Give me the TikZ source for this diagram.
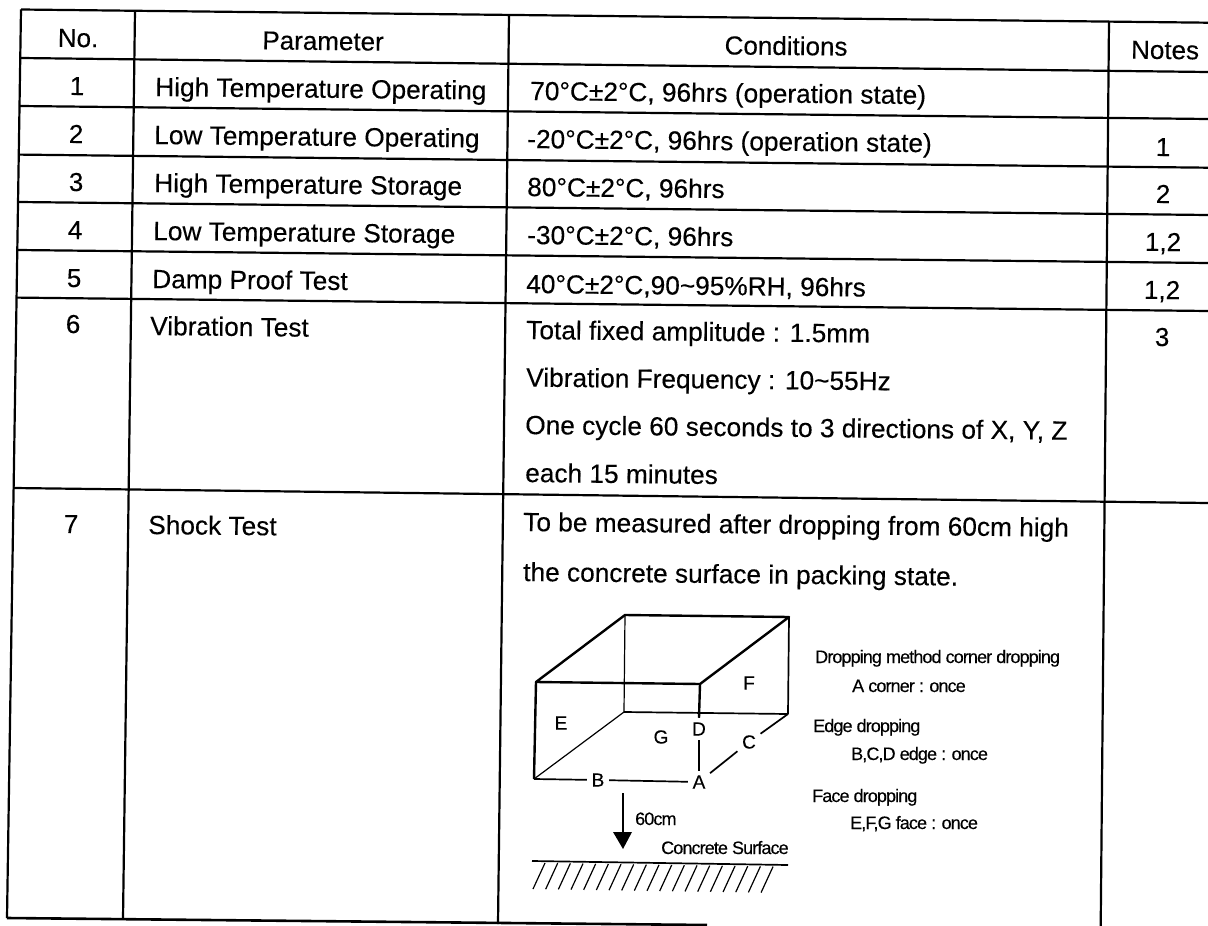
\documentclass[tikz,border=0pt]{standalone}
\usepackage{fontspec}
\setmainfont{Liberation Sans}
\newfontface\mainface[FakeBold=0.25]{Liberation Sans}
\newfontface\smfont[LetterSpace=-5,FakeBold=0.25]{Liberation Sans}
\newfontface\labface[FakeBold=0.25]{Liberation Sans}
\tikzset{
  x=1pt,y=-1pt,
  tline/.style={line width=2.2pt,black},
  ttxt/.style={inner sep=0pt,anchor=base west,rotate=-0.6,font=\mainface\fontsize{26.25}{30}\selectfont},
  ctxt/.style={inner sep=0pt,anchor=base,rotate=-0.6,font=\mainface\fontsize{26}{30}\selectfont},
  smtxt/.style={inner sep=0pt,anchor=base west,font=\smfont\fontsize{18}{22}\selectfont},
  lab/.style={inner sep=4.5pt,font=\labface\fontsize{19}{24}\selectfont},
  heavy/.style={line width=2.4pt,line join=round},
  medium/.style={line width=1.7pt},
  fine/.style={line width=1.2pt}
}
\begin{document}
\begin{tikzpicture}
\useasboundingbox (0,0) rectangle (1208,926);
\fill[white] (0,0) rectangle (1208,926);
% horizontal rules
\draw[tline] (21,9.5) -- (1208,22.7);
\draw[tline] (21,58) -- (1208,72);
\draw[tline] (20,106) -- (1208,119);
\draw[tline] (19,154.6) -- (1208,167.7);
\draw[tline] (19,202) -- (1208,215);
\draw[tline] (18,250) -- (1208,263);
\draw[tline] (17,297.6) -- (1208,311);
\draw[tline] (14,488) -- (1208,503);
\draw[tline,line width=2.6pt] (7,918) -- (707,925);
% vertical rules
\draw[tline] (21,9.5) -- (7,918);
\draw[tline] (135,10.5) -- (123,919);
\draw[tline] (509,15) -- (498,924);
\draw[tline] (1109,21) -- (1100.7,926);
% column 1
\node[ctxt] (h1) at (78,47) {No.};
\node[ctxt] (n1) at (77,95) {1};
\node[ctxt] (n2) at (76,143) {2};
\node[ctxt] (n3) at (76,191) {3};
\node[ctxt] (n4) at (75,239) {4};
\node[ctxt] (n5) at (74,287) {5};
\node[ctxt] (n6) at (73,333) {6};
\node[ctxt] (n7) at (71,533) {7};
% column 2
\node[ctxt] (h2) at (323,50) {Parameter};
\node[ttxt] (p1) at (155,96) {High Temperature Operating};
\node[ttxt] (p2) at (154,144) {Low Temperature Operating};
\node[ttxt] (p3) at (154,192) {High Temperature Storage};
\node[ttxt] (p4) at (153,240) {Low Temperature Storage};
\node[ttxt] (p5) at (152,288) {Damp Proof Test};
\node[ttxt] (p6) at (150,335) {Vibration Test};
\node[ttxt] (p7) at (148,534) {Shock Test};
% column 3
\node[ctxt] (h3) at (786,55) {Conditions};
\node[ttxt] (c1) at (530,100) {70°C±2°C, 96hrs (operation state)};
\node[ttxt] (c2) at (527,148) {-20°C±2°C, 96hrs (operation state)};
\node[ttxt] (c3) at (527,196) {80°C±2°C, 96hrs};
\node[ttxt] (c4) at (527,244) {-30°C±2°C, 96hrs};
\node[ttxt] (c5) at (526,293) {40°C±2°C,90\textasciitilde95\%RH, 96hrs};
\node[ttxt] (c6) at (526,339) {Total fixed amplitude : 1.5mm};
\node[ttxt] (c7) at (526,386.5) {Vibration Frequency : 10\textasciitilde55Hz};
\node[ttxt] (c8) at (525,434) {One cycle 60 seconds to 3 directions of X, Y, Z};
\node[ttxt] (c9) at (525,482) {each 15 minutes};
\node[ttxt] (c10) at (523,531) {To be measured after dropping from 60cm high};
\node[ttxt] (c11) at (523,581) {the concrete surface in packing state.};
% column 4
\node[ctxt] (h4) at (1165,59) {Notes};
\node[ctxt] (t2) at (1163,156) {1};
\node[ctxt] (t3) at (1163,203) {2};
\node[ctxt] (t4) at (1163,251) {1,2};
\node[ctxt] (t5) at (1162,299) {1,2};
\node[ctxt] (t6) at (1162,346) {3};
% box corners
\coordinate (btl) at (625,615);
\coordinate (btr) at (789,617);
\coordinate (ftl) at (536,682);
\coordinate (ftr) at (700,684);
\coordinate (bbl) at (624,712);
\coordinate (bbr) at (788,714);
\coordinate (fbl) at (534,779);
% labels on the box
\node[lab] (la) at (699,782) {A};
\node[lab] (lb) at (598,780) {B};
\node[lab] (lc) at (749,742) {C};
\node[lab] (ld) at (699,729) {D};
\node[lab] (le) at (561,723) {E};
\node[lab] (lf) at (749,683) {F};
\node[lab] (lg) at (661,737) {G};
% box edges
\draw[heavy] (ftl) -- (btl) -- (btr) -- (ftr) -- cycle;
\draw[heavy] (ftl) -- (fbl);
\draw[medium] (btr) -- (bbr);
\draw[heavy] (ftr) -- (ld.north);
\draw[fine] (btl) -- (bbl);
\draw[medium] (bbl) -- (bbr);
\draw[fine] (bbl) -- (fbl);
\draw[medium] (ld) -- (la);
\draw[medium] (bbr) -- (lc);
\draw[medium] (lc) -- (la);
\draw[medium] (fbl) -- (lb);
\draw[medium] (lb) -- (la);
% drop arrow
\coordinate (dropa) at (623,793);
\coordinate (dropb) at (623,833);
\coordinate (tipl) at (613,832);
\coordinate (tipr) at (632,832);
\coordinate (tip) at (623,849);
\draw[fine] (dropa) -- (dropb);
\fill (tipl) -- (tipr) -- (tip) -- cycle;
\node[smtxt] (drop) at (635,825) {60cm};
\node[smtxt] (cs) at (661,854) {Concrete Surface};
% ground
\coordinate (gl) at (532,861);
\coordinate (gr) at (788,865);
\draw[medium] (gl) -- (gr);
\foreach \i in {0,...,18} {
  \draw[fine] ({545+\i*12.67},{863+\i*0.2}) -- ({533+\i*12.67},{889+\i*0.2});
}
% right hand notes
\node[smtxt] (m1) at (815,663) {Dropping method corner dropping};
\node[smtxt] (m2) at (852,692) {A corner : once};
\node[smtxt] (m3) at (813,732) {Edge dropping};
\node[smtxt] (m4) at (851,760) {B,C,D edge : once};
\node[smtxt] (m5) at (812,802) {Face dropping};
\node[smtxt] (m6) at (850,829) {E,F,G face : once};
\end{tikzpicture}
\end{document}
